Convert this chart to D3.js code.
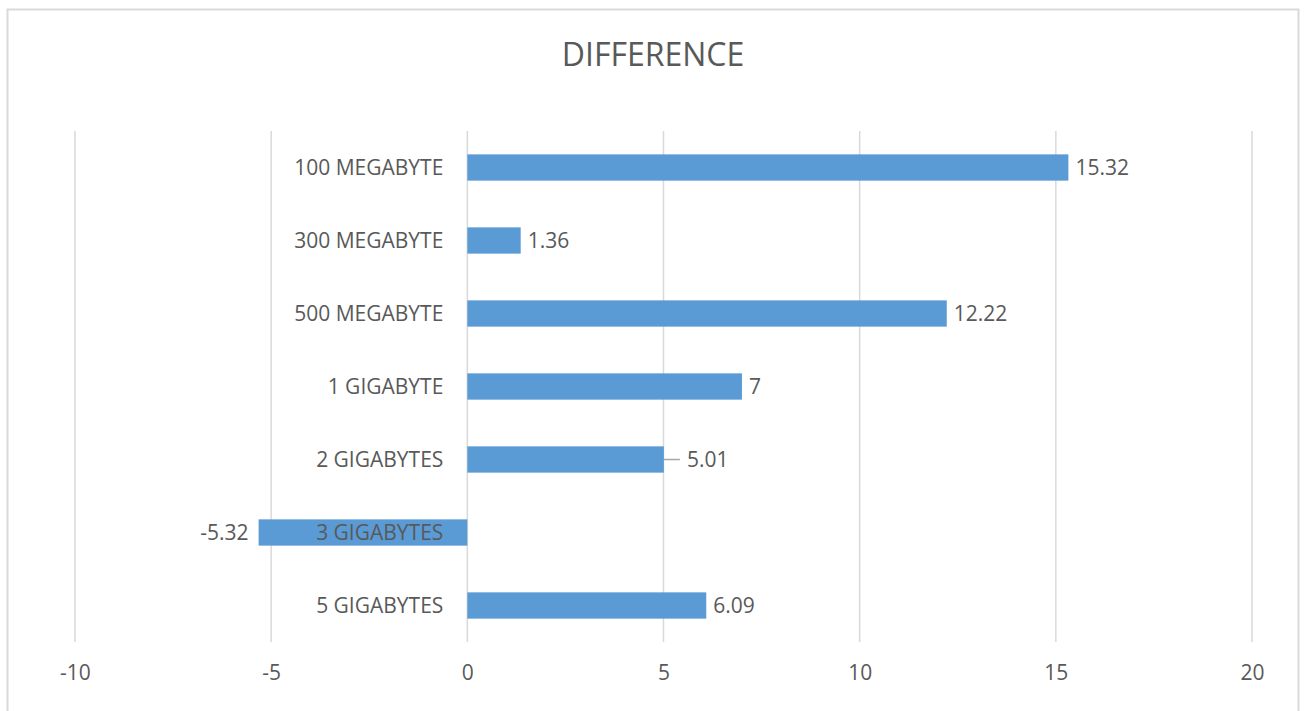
<!DOCTYPE html>
<html>
<head>
<meta charset="utf-8">
<script src="https://cdn.jsdelivr.net/npm/d3@7"></script>
<style>
  html, body { margin: 0; padding: 0; background: #ffffff; }
  svg { display: block; }
  text { font-family: "Open Sans", "Liberation Sans", sans-serif; fill: #595959; }
</style>
</head>
<body>
<svg id="chart" width="1306" height="711"></svg>
<script>
// Size categories, top to bottom
const categories = ["100 MEGABYTE", "300 MEGABYTE", "500 MEGABYTE", "1 GIGABYTE", "2 GIGABYTES", "3 GIGABYTES", "5 GIGABYTES"];
// Difference per category
const values = [15.32, 1.36, 12.22, 7, 5.01, -5.32, 6.09];
// Value axis ticks
const tickValues = [-10, -5, 0, 5, 10, 15, 20];
const title = "DIFFERENCE";

const svg = d3.select("#chart");
const FONT = "\"Open Sans\", \"Liberation Sans\", sans-serif";

// Outer chart frame
svg.append("rect")
  .attr("x", 7.5).attr("y", 9.5)
  .attr("width", 1291).attr("height", 720)
  .attr("fill", "#ffffff")
  .attr("stroke", "#d9d9d9").attr("stroke-width", 2);

// Title
svg.append("text")
  .attr("x", 653).attr("y", 66)
  .attr("text-anchor", "middle")
  .attr("font-size", 32)
  .text(title);

const plot = { left: 75, right: 1252, top: 131, bottom: 642 };

const x = d3.scaleLinear().domain([-10, 20]).range([plot.left, plot.right]);
const y = d3.scaleBand().domain(categories).range([plot.top, plot.bottom]).paddingInner(0.64).paddingOuter(0.32);

// Vertical gridlines
svg.append("g")
  .selectAll("line")
  .data(tickValues)
  .join("line")
  .attr("x1", d => x(d)).attr("x2", d => x(d))
  .attr("y1", plot.top).attr("y2", plot.bottom)
  .attr("stroke", "#d9d9d9").attr("stroke-width", 1.5);

// Tick labels along the bottom (plain hyphen for negatives)
const xAxis = d3.axisBottom(x).tickValues(tickValues).tickSize(0).tickPadding(0).tickFormat(d => String(d));
const gx = svg.append("g").attr("transform", `translate(0, ${plot.bottom})`).call(xAxis);
gx.select(".domain").remove();
gx.selectAll("text")
  .attr("y", 38).attr("dy", 0)
  .attr("font-size", 21)
  .attr("font-family", FONT)
  .attr("fill", "#595959");

// Bars
svg.append("g")
  .selectAll("rect")
  .data(categories)
  .join("rect")
  .attr("x", (d, i) => x(Math.min(0, values[i])))
  .attr("width", (d, i) => Math.abs(x(values[i]) - x(0)))
  .attr("y", d => y(d))
  .attr("height", y.bandwidth())
  .attr("fill", "#5b9bd5");

// Category labels next to the zero line
const yAxis = d3.axisLeft(y).tickSize(0).tickPadding(24);
const gy = svg.append("g").attr("transform", `translate(${x(0)}, 0)`).call(yAxis);
gy.select(".domain").remove();
gy.selectAll("text")
  .attr("font-size", 21)
  .attr("dy", "0.38em")
  .attr("font-family", FONT)
  .attr("fill", "#595959");

// Data labels; the 5.01 label sits a little further out with a leader line
const labelOffset = categories.map((c, i) => i === 4 ? 23 : 7);

svg.append("g")
  .selectAll("line")
  .data(categories.filter((c, i) => i === 4))
  .join("line")
  .attr("x1", c => x(values[categories.indexOf(c)]))
  .attr("x2", c => x(values[categories.indexOf(c)]) + 16)
  .attr("y1", c => y(c) + y.bandwidth() / 2)
  .attr("y2", c => y(c) + y.bandwidth() / 2)
  .attr("stroke", "#a6a6a6").attr("stroke-width", 1.5);

svg.append("g")
  .selectAll("text")
  .data(categories)
  .join("text")
  .attr("x", (d, i) => values[i] >= 0 ? x(values[i]) + labelOffset[i] : x(values[i]) - 10)
  .attr("y", d => y(d) + y.bandwidth() / 2)
  .attr("dy", "0.38em")
  .attr("text-anchor", (d, i) => values[i] >= 0 ? "start" : "end")
  .attr("font-size", 21)
  .attr("fill", "#404040")
  .text((d, i) => String(values[i]));
</script>
</body>
</html>
